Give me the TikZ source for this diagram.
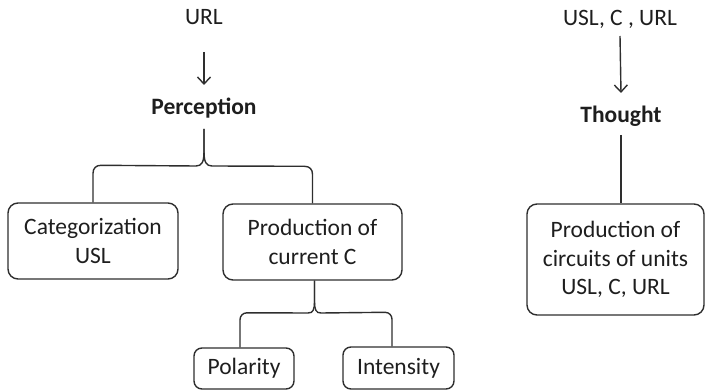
\documentclass[tikz,border=0pt]{standalone}
\usepackage{fontspec}
\setmainfont{Carlito}
\usetikzlibrary{arrows.meta}
\definecolor{ink}{HTML}{1E1E1E}
\definecolor{wire}{HTML}{2E2E2E}
\begin{document}
\begin{tikzpicture}[x=1pt,y=1pt,
  txt/.style={font=\fontsize{23.5}{28.5}\selectfont, text=ink, inner sep=0},
  bold/.style={txt, font=\fontsize{23.5}{28.5}\selectfont\bfseries},
  box/.style={txt, draw=wire, line width=1.4pt, rounded corners=10pt, align=center},
  ln/.style={draw=wire, line width=1.4pt},
  arr/.style={ln, -{Straight Barb[length=7pt,width=13pt]}}]
\useasboundingbox (0,0) rectangle (706,391);

% left column: perception
\node[txt, anchor=base] (url) at (204,366) {URL};
\node[bold, anchor=base] (perc) at (204,276) {Perception};
\node[box, minimum width=170, minimum height=76] (cat) at (93,150) {Categorization\\USL};
\node[box, minimum width=179, minimum height=76] (prod) at (312.5,149) {Production of\\current C};
\node[box, rounded corners=8pt, minimum width=100, minimum height=41] (pol) at (244,22.5) {Polarity};
\node[box, rounded corners=8pt, minimum width=111, minimum height=42] (int) at (398.5,23) {Intensity};

% right column: thought
\node[txt, anchor=base] (usl) at (620,365) {USL, C , URL};
\node[bold, anchor=base] (thought) at (621,268) {Thought};
\node[box, minimum width=177, minimum height=111] (circ) at (615.5,131.5) {Production of\\circuits of units\\USL, C, URL};

% arrows
\draw[arr] ([yshift=-27]url.base) -- ([yshift=30]perc.base);
\draw[arr] ([yshift=-10]usl.base) -- ([yshift=30]thought.base);
\draw[ln] ([yshift=-12]thought.base) -- (thought.base |- circ.north);

% upper brace
\coordinate (tipA) at ([yshift=-14]perc.base);
\draw[ln] (cat.north) -- ++(0,29) .. controls +(0,5) and +(-5,0) .. ++(8,8)
  -- (196,225) .. controls (202,225) and (204,229) .. (204,240) -- (tipA);
\draw[ln] (prod.north) -- ++(0,29) .. controls +(0,5) and +(5,0) .. ++(-8,8)
  -- (212,225) .. controls (206,225) and (204,229) .. (204,240) -- (tipA);

% lower brace
\coordinate (tipB) at ([xshift=2]prod.south);
\draw[ln] ([xshift=-4]pol.north) -- ++(0,27.5) .. controls +(0,4) and +(-4,0) .. ++(7,7)
  -- (308,78) .. controls (313,78) and (314.5,81) .. (314.5,90) -- (tipB);
\draw[ln] ([xshift=-6.5]int.north) -- ++(0,27) .. controls +(0,4) and +(4,0) .. ++(-7,7)
  -- (321,78) .. controls (316,78) and (314.5,81) .. (314.5,90) -- (tipB);
\end{tikzpicture}
\end{document}
